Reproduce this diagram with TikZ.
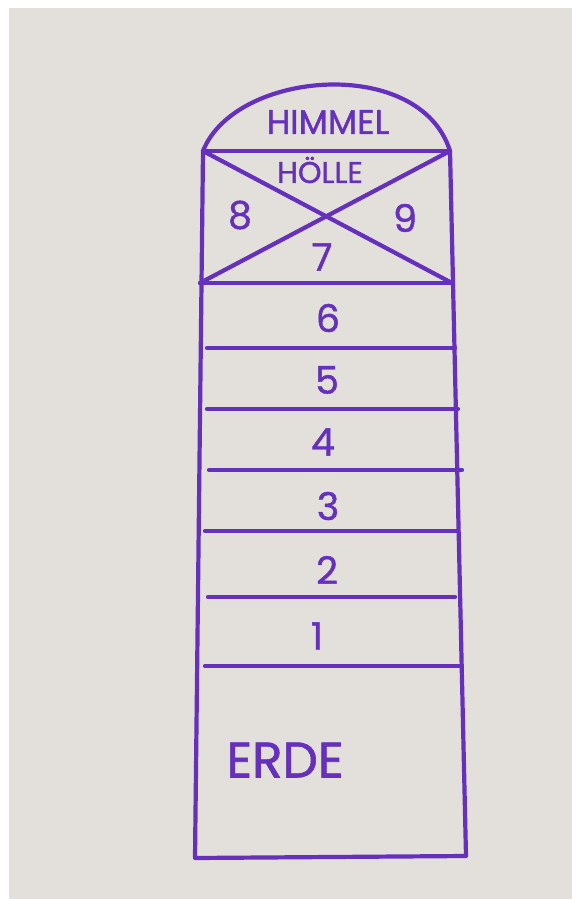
\documentclass[tikz,border=0pt]{standalone}
\usepackage{fontspec}
\setmainfont{Poppins}[FakeBold=1.2]
\usepackage{tikz}
\definecolor{inkcol}{HTML}{6430BC}
\definecolor{papercol}{HTML}{E3E0DB}

\begin{document}
\begin{tikzpicture}[x=1pt, y=-1pt,
    ink/.style={line width=4.2pt, inkcol, line cap=round, line join=round},
    field/.style={text=inkcol, inner sep=0pt, font=\fontsize{38}{38}\selectfont},
    word/.style={text=inkcol, inner sep=0pt}]

    % ── Paper ────────────────────────────────────────────────────────────────
    \useasboundingbox (0,0) rectangle (572,899);
    \fill[white] (0,0) rectangle (572,899);
    \fill[papercol] (9,8) rectangle (572,899);

    % ── Corners of the court ─────────────────────────────────────────────────
    \coordinate (tl) at (203,151);
    \coordinate (tr) at (450,151);
    \coordinate (xl) at (200,283);
    \coordinate (xr) at (452,283);
    \coordinate (bl) at (195,858);
    \coordinate (br) at (466,856);

    % ── Himmel (arc on top) ──────────────────────────────────────────────────
    \draw[ink] (tl) .. controls (235,70) and (420,55) .. (tr);
    \node[word, font=\fontsize{34}{34}\selectfont] (himmel) at (328,122) {HIMMEL};

    % ── Hoelle box with the cross ────────────────────────────────────────────
    \draw[ink] (tl) -- (tr);
    \draw[ink] (tl) -- (xr);
    \draw[ink] (tr) -- (xl);
    \draw[ink] (xl) -- (xr);
    \node[word, font=\fontsize{30}{30}\selectfont] (hoelle) at (320,170) {HÖLLE};
    \node[field] (f8) at (240,215) {8};
    \node[field] (f9) at (405,218) {9};
    \node[field] (f7) at (322,257) {7};

    % ── Outline ──────────────────────────────────────────────────────────────
    \draw[ink] (tl) -- (bl) -- (br) -- (tr);

    % ── Fields 6 .. 1 ────────────────────────────────────────────────────────
    \draw[ink] (207,348) -- (455,348);
    \draw[ink] (207,409) -- (458,409);
    \draw[ink] (209,470) -- (462,470);
    \draw[ink] (205,531) -- (458,531);
    \draw[ink] (208,597) -- (455,597);
    \draw[ink] (205,666) -- (460,666);
    \node[field] (f6) at (328,318) {6};
    \node[field] (f5) at (327,380) {5};
    \node[field] (f4) at (323,442) {4};
    \node[field] (f3) at (328,506) {3};
    \node[field] (f2) at (327,570) {2};
    \node[field] (f1) at (317,636) {1};

    % ── Erde ─────────────────────────────────────────────────────────────────
    \node[word, font=\fontsize{50}{50}\selectfont] (erde) at (285,760) {ERDE};

\end{tikzpicture}
\end{document}
